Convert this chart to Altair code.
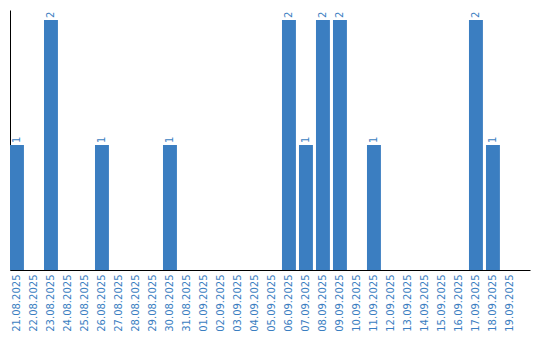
import altair as alt
import pandas as pd

dates = ["21.08.2025","22.08.2025","23.08.2025","24.08.2025","25.08.2025","26.08.2025",
         "27.08.2025","28.08.2025","29.08.2025","30.08.2025","31.08.2025","01.09.2025",
         "02.09.2025","03.09.2025","04.09.2025","05.09.2025","06.09.2025","07.09.2025",
         "08.09.2025","09.09.2025","10.09.2025","11.09.2025","12.09.2025","13.09.2025",
         "14.09.2025","15.09.2025","16.09.2025","17.09.2025","18.09.2025","19.09.2025"]
counts = [1,0,2,0,0,1,0,0,0,1,0,0,0,0,0,0,2,1,2,2,0,1,0,0,0,0,0,2,1,0]

df = pd.DataFrame({"date": dates, "count": counts})
blue = "#3b7ec1"

x = alt.X("date:N", sort=dates, title=None,
          scale=alt.Scale(paddingInner=0.18, paddingOuter=0.385, align=0),
          axis=alt.Axis(labelAngle=-90, labelColor=blue, labelFont="DejaVu Sans",
                        labelFontSize=10, ticks=False, domainColor="black",
                        labelPadding=4, labelAlign="right", labelBaseline="middle"))
y = alt.Y("count:Q", title=None, scale=alt.Scale(domain=[0, 2.08], nice=False),
          axis=alt.Axis(labels=False, ticks=False, grid=False, domainColor="black"))

bars = alt.Chart(df).mark_bar(color=blue).encode(x=x, y=y)
text = alt.Chart(df).transform_filter("datum.count > 0").mark_text(
    angle=270, align="left", baseline="middle", color=blue,
    font="DejaVu Sans", fontSize=10, dx=2
).encode(x=alt.X("date:N", sort=dates), y="count:Q", text="count:Q")

chart = (bars + text).properties(width=520, height=260, padding={"left": 10, "top": 10, "right": 10, "bottom": 0}).configure_view(stroke=None)
chart.save("out.html", embed_options={"renderer": "svg", "actions": False})
